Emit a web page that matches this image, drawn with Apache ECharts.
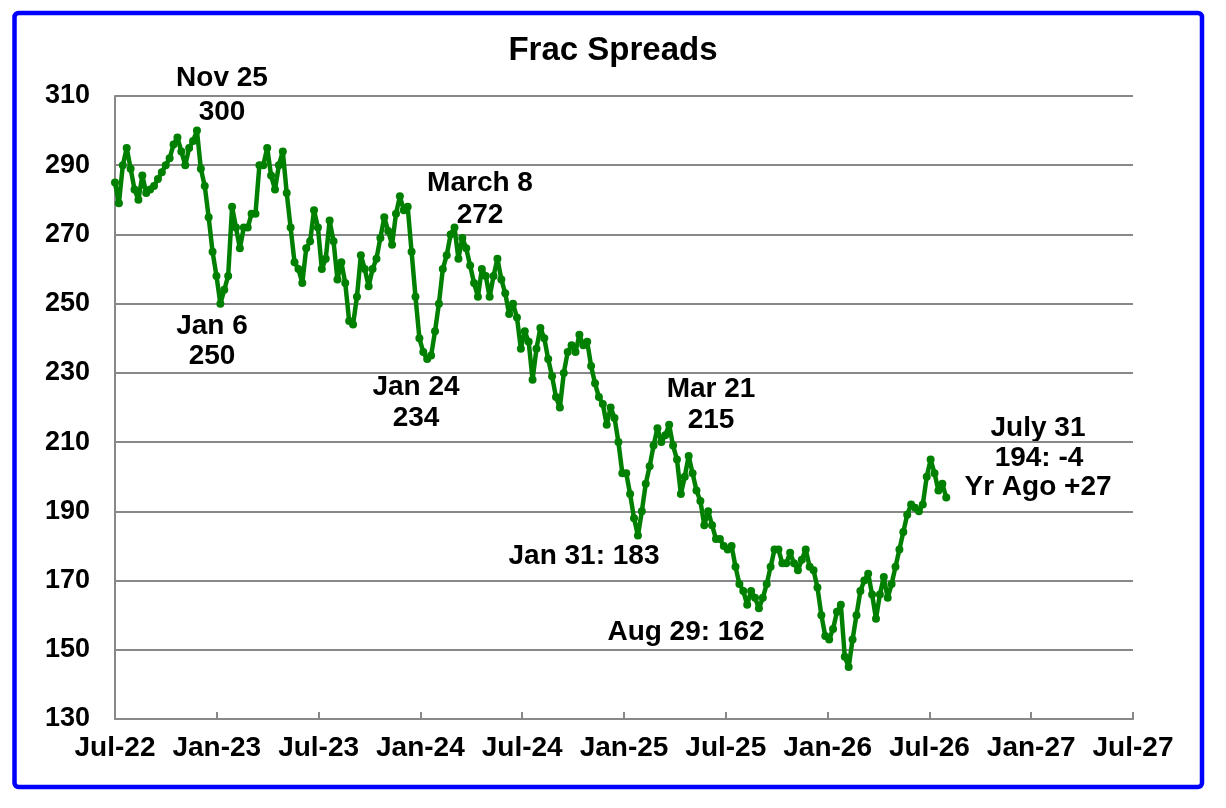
<!DOCTYPE html>
<html>
<head>
<meta charset="utf-8">
<title>Frac Spreads</title>
<script src="https://cdn.jsdelivr.net/npm/echarts@6/dist/echarts.min.js"></script>
<style>
	html, body { margin: 0; padding: 0; background: #fff; }
	#fracChart { width: 1226px; height: 808px; }
</style>
</head>
<body>
<div id="fracChart"></div>
<script>
// weekly frac spread count, one value per Friday starting 2022-07-01
const startDate = "2022-07-01";
const fracs2022 = [285, 279, 290, 295, 289, 283, 280, 287, 282, 283, 284, 286, 288, 290, 292, 296, 298, 294, 290, 295, 297, 300, 289, 284, 275, 265, 258];
const fracs2023 = [250, 254, 258, 278, 272, 266, 272, 272, 276, 276, 290, 290, 295, 287, 283, 290, 294, 282, 272, 262, 260, 256, 266, 268, 277, 272, 260, 263, 274, 268, 257, 262, 256, 245, 244, 252, 264, 260, 255, 260, 263, 269, 275, 271, 267, 276, 281, 277, 278, 265, 252, 240];
const fracs2024 = [236, 234, 235, 242, 250, 260, 264, 270, 272, 263, 269, 266, 261, 256, 252, 260, 258, 252, 258, 263, 257, 253, 247, 250, 246, 237, 242, 239, 228, 237, 243, 240, 234, 229, 223, 220, 230, 236, 238, 236, 241, 238, 239, 232, 227, 223, 221, 215, 220, 217, 210, 201];
const fracs2025 = [201, 195, 188, 183, 190, 198, 203, 209, 214, 210, 212, 215, 209, 205, 195, 200, 206, 201, 196, 193, 186, 190, 186, 182, 182, 180, 179, 180, 174, 169, 167, 163, 167, 165, 162, 165, 169, 174, 179, 179, 175, 175, 178, 175, 173, 176, 179, 174, 173, 168, 160, 154];
const fracs2026 = [153, 156, 161, 163, 148, 145, 153, 160, 167, 170, 172, 166, 159, 166, 171, 165, 169, 174, 179, 184, 189, 192, 191, 190, 192, 200, 205, 201, 196, 198, 194];

// x axis ticks every half year
const xTickLabels = ["Jul-22", "Jan-23", "Jul-23", "Jan-24", "Jul-24", "Jan-25", "Jul-25", "Jan-26", "Jul-26", "Jan-27", "Jul-27"];

// call-outs written on the chart
const annotations = [
	{ text: "Nov 25", x: 222, y: 78 },
	{ text: "300", x: 222, y: 112 },
	{ text: "Jan 6", x: 212, y: 326 },
	{ text: "250", x: 212, y: 356 },
	{ text: "March 8", x: 480, y: 183 },
	{ text: "272", x: 480, y: 215 },
	{ text: "Jan 24", x: 416, y: 387 },
	{ text: "234", x: 416, y: 418 },
	{ text: "Mar 21", x: 711, y: 389 },
	{ text: "215", x: 711, y: 420 },
	{ text: "Jan 31: 183", x: 584, y: 556 },
	{ text: "Aug 29: 162", x: 686, y: 632 },
	{ text: "July 31", x: 1038, y: 428 },
	{ text: "194: -4", x: 1039, y: 458 },
	{ text: "Yr Ago +27", x: 1038, y: 487 },
];

const FONT = "'Liberation Sans', Arial, sans-serif";
const HALF_YEAR = 182.6; // days

// x position = half years since the start date
const values = [].concat(fracs2022, fracs2023, fracs2024, fracs2025, fracs2026);
const seriesData = values.map((v, i) => [(7 * i) / HALF_YEAR, v]);

const fracChart = echarts.init(document.getElementById("fracChart"), null, { renderer: "canvas" });

fracChart.setOption({
	animation: false,
	backgroundColor: "#ffffff",
	title: {
		text: "Frac Spreads",
		left: "center",
		top: 29,
		textStyle: { fontFamily: FONT, fontSize: 33, fontWeight: "bold", color: "#000" },
	},
	grid: { left: 115, top: 96, width: 1018, height: 623, containLabel: false },
	xAxis: {
		type: "value",
		min: 0,
		max: 10,
		interval: 1,
		axisLine: { show: true, lineStyle: { color: "#888", width: 2 } },
		axisTick: { show: true, inside: true, length: 7, lineStyle: { color: "#888", width: 2 } },
		splitLine: { show: false },
		axisLabel: {
			margin: 15,
			color: "#000",
			fontFamily: FONT,
			fontSize: 28,
			fontWeight: "bold",
			formatter: (v) => xTickLabels[Math.round(v)] || "",
		},
	},
	yAxis: {
		type: "value",
		min: 130,
		max: 310,
		interval: 20,
		axisLine: { show: true, lineStyle: { color: "#888", width: 2 } },
		axisTick: { show: false },
		splitLine: { show: true, lineStyle: { color: "#888", width: 2 } },
		axisLabel: {
			margin: 25,
			color: "#000",
			fontFamily: FONT,
			fontSize: 27,
			fontWeight: "bold",
		},
	},
	series: [
		{
			name: "Frac Spreads",
			type: "line",
			data: seriesData,
			symbol: "circle",
			symbolSize: 8,
			showAllSymbol: true,
			itemStyle: { color: "#008000" },
			lineStyle: { color: "#008000", width: 4.5 },
		},
	],
	graphic: [
		{
			type: "rect",
			shape: { x: 14.5, y: 13, width: 1187.5, height: 774, r: 4 },
			style: { fill: "none", stroke: "#0000ff", lineWidth: 4.5 },
			silent: true,
		},
	].concat(
		annotations.map((a) => ({
			type: "text",
			x: a.x,
			y: a.y,
			silent: true,
			style: {
				text: a.text,
				align: "center",
				verticalAlign: "middle",
				font: "bold 28px " + FONT,
				fill: "#000",
			},
		}))
	),
});
</script>
</body>
</html>
